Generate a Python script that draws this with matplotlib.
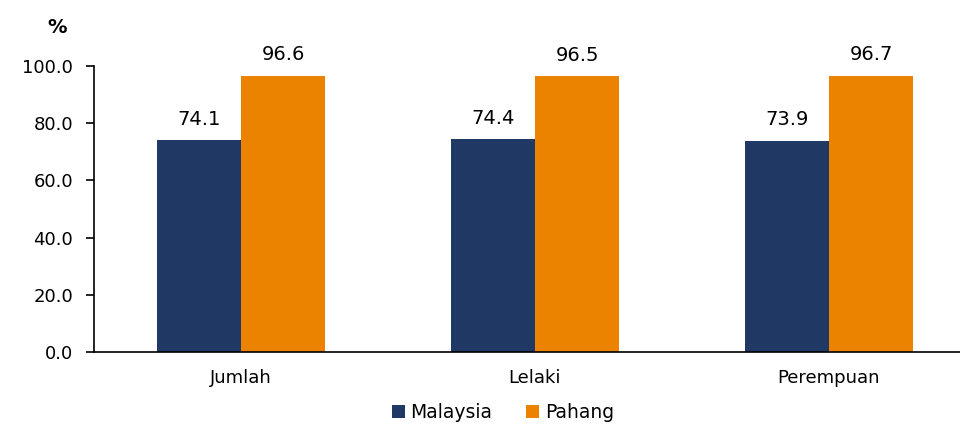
import numpy as np
import matplotlib
matplotlib.use("Agg")
import matplotlib.pyplot as plt

# wide sans to get close to the stretched Arial look of the original
plt.rcParams["font.family"] = ["DejaVu Sans"]

categories = ["Jumlah", "Lelaki", "Perempuan"]
malaysia = [74.1, 74.4, 73.9]
pahang = [96.6, 96.5, 96.7]
series_names = ["Malaysia", "Pahang"]
colors = ["#203864", "#EC8300"]

fig = plt.figure(figsize=(9.6, 4.24), dpi=100)
ax = fig.add_axes([0.098, 0.170, 0.902, 0.674])

x = np.arange(len(categories))
w = 0.286
b1 = ax.bar(x - w / 2, malaysia, w, color=colors[0], label=series_names[0])
b2 = ax.bar(x + w / 2, pahang, w, color=colors[1], label=series_names[1])

for bars, vals in [(b1, malaysia), (b2, pahang)]:
    for bar, v in zip(bars, vals):
        ax.text(bar.get_x() + bar.get_width() / 2, v + 4, f"{v:.1f}",
                ha="center", va="bottom", fontsize=14)

ax.set_xlim(-0.5, 2.446)
ax.set_ylim(0, 100)
ticks = np.arange(0, 101, 20)
ax.set_yticks(ticks)
ax.set_yticklabels([f"{t:.1f}" for t in ticks], fontsize=13)
ax.set_xticks(x)
ax.set_xticklabels(categories, fontsize=13)
ax.tick_params(axis="x", length=0, pad=12)
ax.tick_params(axis="y", direction="out", length=6, width=1.2, pad=9)

ax.spines["top"].set_visible(False)
ax.spines["right"].set_visible(False)
ax.spines["left"].set_linewidth(1.2)
ax.spines["bottom"].set_linewidth(1.2)

fig.text(0.06, 0.935, "%", fontsize=14, fontweight="bold", ha="center", va="center")

fig.legend(loc="center", bbox_to_anchor=(0.524, 0.027), ncol=2, frameon=False,
           fontsize=13.5, handlelength=0.7, handleheight=0.7, handletextpad=0.3,
           columnspacing=1.8)

fig.savefig("out.png", dpi=100)
